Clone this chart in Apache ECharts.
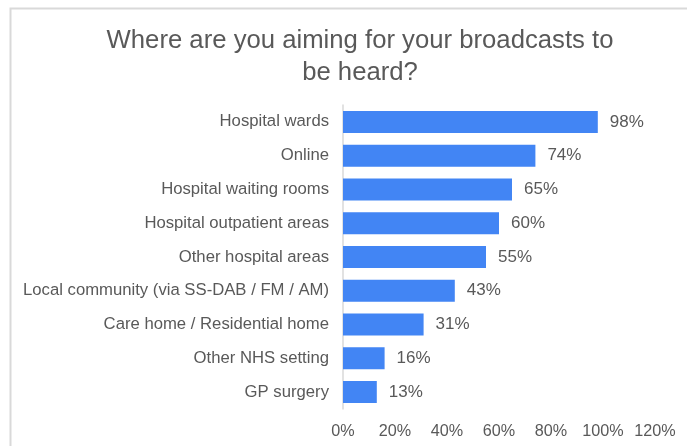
<!DOCTYPE html>
<html>
<head>
<meta charset="utf-8">
<script src="https://cdn.jsdelivr.net/npm/echarts@6/dist/echarts.min.js"></script>
<style>html,body{margin:0;padding:0;background:#fff;}#c{width:687px;height:446px;}</style>
</head>
<body>
<div id="c"></div>
<script>
const categories = ["Hospital wards","Online","Hospital waiting rooms","Hospital outpatient areas","Other hospital areas","Local community (via SS-DAB / FM / AM)","Care home / Residential home","Other NHS setting","GP surgery"];
const values = [98,74,65,60,55,43,31,16,13];
const xTicks = [0,20,40,60,80,100,120];

const chart = echarts.init(document.getElementById('c'), null, {renderer:'canvas'});
const font = 'Liberation Sans, Arial, sans-serif';
chart.setOption({
  animation:false,
  textStyle:{fontFamily:font},
  graphic:[{type:'rect',shape:{x:10.5,y:8.5,width:700,height:460},style:{fill:'none',stroke:'#d9d9d9',lineWidth:2},silent:true}],
  title:{text:'Where are you aiming for your broadcasts to\nbe heard?',left:355,textAlign:'center',top:20,
    textStyle:{fontFamily:font,fontSize:25.7,fontWeight:'normal',color:'#595959',lineHeight:32}},
  grid:{left:343,right:32,top:105,bottom:37,containLabel:false},
  xAxis:{type:'value',min:xTicks[0],max:xTicks[xTicks.length-1],interval:20,
    axisLine:{show:false},axisTick:{show:false},splitLine:{show:false},
    axisLabel:{formatter:'{value}%',fontSize:16.2,color:'#595959',margin:15,fontFamily:font}},
  yAxis:{type:'category',data:categories,inverse:true,
    axisLine:{show:true,lineStyle:{color:'#d9d9d9',width:1.5}},axisTick:{show:false},
    axisLabel:{fontSize:16.7,color:'#595959',margin:14,fontFamily:font}},
  series:[{type:'bar',data:values,barWidth:22,itemStyle:{color:'#4285f4'},
    label:{show:true,position:'right',distance:12,formatter:'{c}%',fontSize:17,color:'#595959',fontFamily:font}}]
});
</script>
</body>
</html>
